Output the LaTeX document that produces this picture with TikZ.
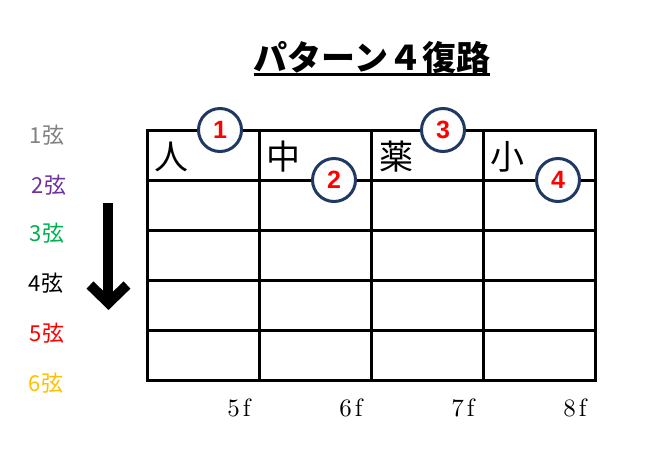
\documentclass[tikz,border=0pt]{standalone}
\usepackage{fontspec}
\newfontfamily\jp{Noto Sans CJK JP}
\newfontfamily\arialb{Liberation Sans}
\definecolor{navy}{RGB}{32,56,100}
\definecolor{sgray}{RGB}{128,128,128}
\definecolor{spurple}{RGB}{112,48,160}
\definecolor{sgreen}{RGB}{0,176,80}
\definecolor{sred}{RGB}{255,0,0}
\definecolor{sgold}{RGB}{255,192,0}
\newcommand{\fretlab}[1]{\scalebox{2.5}{\fontsize{10}{10}\selectfont #1\kern1.2pt f}}
\begin{document}
\begin{tikzpicture}[x=1pt,y=-1pt,
  gridline/.style={line width=3pt},
  num/.style={circle, draw=navy, line width=3pt, fill=white, minimum size=43pt, inner sep=0pt, font=\arialb\bfseries\fontsize{25}{25}\selectfont, text=red},
  cellch/.style={font=\jp\fontsize{34}{34}\selectfont, inner sep=0pt},
  strlab/.style={font=\jp\fontsize{22}{22}\selectfont, inner sep=0pt},
  fret/.style={inner sep=0pt}]
\useasboundingbox (0,0) rectangle (650,448);
% title
\node[font=\jp\bfseries\fontsize{34}{34}\selectfont, inner sep=0pt, anchor=base] (title) at (372,70) {パターン４復路};
\draw[line width=3pt] ([yshift=-4pt]title.base west) -- ([yshift=-4pt]title.base east);
% grid
\draw[gridline] (147,130) rectangle (595,380);
\foreach \y in {180,230,280,330} \draw[gridline] (147,\y) -- (595,\y);
\foreach \x in {259,371,483} \draw[gridline] (\x,130) -- (\x,380);
% cell characters
\node[cellch] (c1) at (171,157) {人};
\node[cellch] (c2) at (283,157) {中};
\node[cellch] (c3) at (396,157) {薬};
\node[cellch] (c4) at (507,157) {小};
% numbered circles
\node[num] (n1) at (220,130) {1};
\node[num] (n2) at (334,180) {2};
\node[num] (n3) at (443,130) {3};
\node[num] (n4) at (558,180) {4};
% string labels
\node[strlab, text=sgray] (s1) at (47,135) {1弦};
\node[strlab, text=spurple] (s2) at (49,185) {2弦};
\node[strlab, text=sgreen] (s3) at (47,233) {3弦};
\node[strlab, text=black] (s4) at (46,283) {4弦};
\node[strlab, text=sred] (s5) at (47,333) {5弦};
\node[strlab, text=sgold] (s6) at (46,383) {6弦};
% arrow
\coordinate (atop) at (108,203);
\coordinate (abot) at (108,300);
\draw[line width=10pt] (atop) -- (abot);
\draw[line width=10pt, miter limit=10] (90,285) -- (108.5,303) -- (127,285);
% fret labels
\node[fret] (f5) at (239,408) {\fretlab{5}};
\node[fret] (f6) at (351,408) {\fretlab{6}};
\node[fret] (f7) at (463,408) {\fretlab{7}};
\node[fret] (f8) at (575,408) {\fretlab{8}};
\end{tikzpicture}
\end{document}
